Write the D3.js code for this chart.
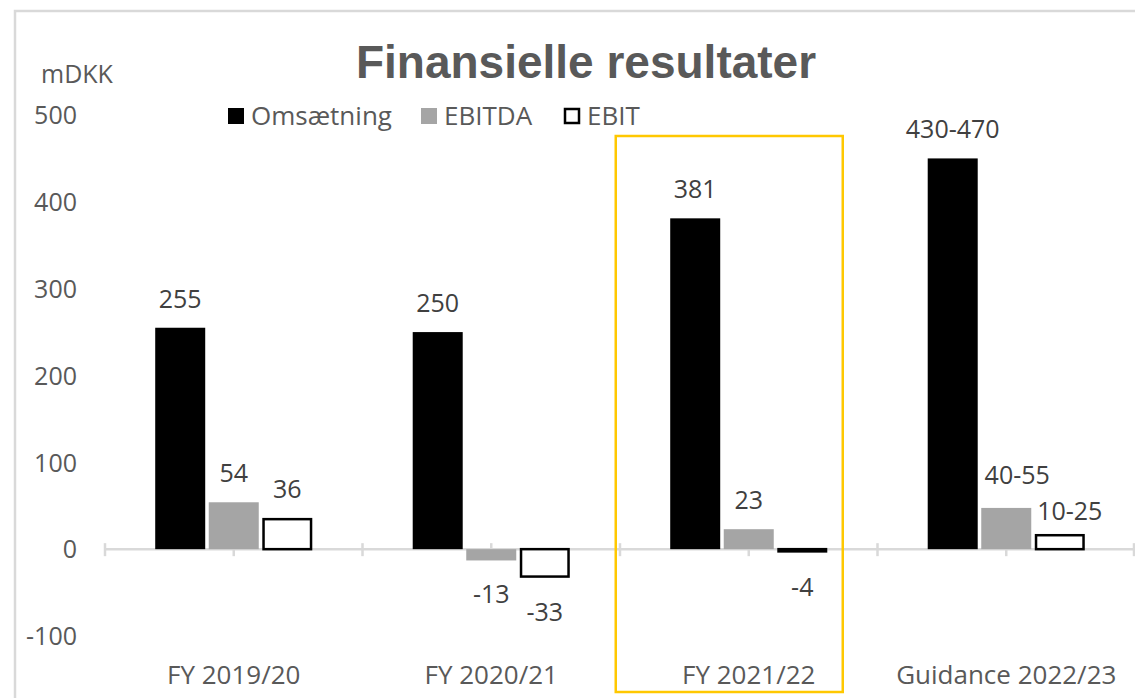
<!DOCTYPE html>
<html>
<head>
<meta charset="utf-8">
<script src="https://cdn.jsdelivr.net/npm/d3@7"></script>
<style>
html,body{margin:0;padding:0;background:#fff;}
svg{display:block;}
</style>
</head>
<body>
<svg id="chart" width="1135" height="698"></svg>
<script>
// ---- data ----
const categories = ["FY 2019/20", "FY 2020/21", "FY 2021/22", "Guidance 2022/23"];
const seriesNames = ["Omsætning", "EBITDA", "EBIT"];
const omsaetning = [255, 250, 381, 450];
const ebitda = [54, -13, 23, 47.5];
const ebit = [36, -33, -4, 17.5];
const omsaetningLabels = ["255", "250", "381", "430-470"];
const ebitdaLabels = ["54", "-13", "23", "40-55"];
const ebitLabels = ["36", "-33", "-4", "10-25"];
const yTicks = [-100, 0, 100, 200, 300, 400, 500];
const highlightCategory = "FY 2021/22";

const seriesValues = [omsaetning, ebitda, ebit];
const seriesLabels = [omsaetningLabels, ebitdaLabels, ebitLabels];
const fills = ["#000000", "#a5a5a5", "#ffffff"];
const strokes = ["none", "none", "#000000"];

const svg = d3.select("#chart");
const W = 1135, H = 698;

// chart area border (light gray, top and left visible)
svg.append("rect").attr("x", 15).attr("y", 11).attr("width", W + 20).attr("height", H + 20)
  .attr("fill", "#fff").attr("stroke", "#d9d9d9").attr("stroke-width", 2.5);

const x0 = d3.scaleBand().domain(categories).range([105, 1135]).paddingInner(0.39).paddingOuter(0.195);
const x1 = d3.scaleBand().domain(seriesNames).range([0, x0.bandwidth()]).paddingInner(0.066).paddingOuter(0);
const y = d3.scaleLinear().domain([-100, 500]).range([636, 115]);

// title
svg.append("text").attr("x", 586).attr("y", 78).attr("text-anchor", "middle")
  .attr("font-family", "Liberation Sans, Arial, sans-serif").attr("font-weight", "bold")
  .attr("font-size", 46).attr("fill", "#595959").text("Finansielle resultater");

// unit label
svg.append("text").attr("x", 41).attr("y", 83)
  .attr("font-family", "Open Sans, sans-serif").attr("font-size", 25).attr("fill", "#595959").text("mDKK");

// y axis (labels only)
const yAxis = d3.axisLeft(y).tickValues(yTicks).tickSize(0).tickPadding(0).tickFormat(d => String(d));
const yg = svg.append("g").attr("transform", "translate(77,0)").call(yAxis);
yg.select(".domain").remove();
yg.selectAll("text").attr("font-family", "Open Sans, sans-serif").attr("font-size", 25)
  .attr("fill", "#595959").attr("dy", "0.35em");

// legend
const legendX = [228, 421, 564];
const lg = svg.append("g");
seriesNames.forEach((s, i) => {
  lg.append("rect").attr("x", legendX[i] + (i === 2 ? 1 : 0)).attr("y", 108 + (i === 2 ? 1 : 0))
    .attr("width", i === 2 ? 14 : 16).attr("height", i === 2 ? 14 : 16)
    .attr("fill", fills[i]).attr("stroke", i === 2 ? "#000" : "none").attr("stroke-width", 2.5);
  lg.append("text").attr("x", legendX[i] + 23).attr("y", 125)
    .attr("font-family", "Open Sans, sans-serif").attr("font-size", 26).attr("fill", "#595959").text(s);
});

// x axis line + ticks
const axisY = y(0);
const xg = svg.append("g");
xg.append("line").attr("x1", 105).attr("x2", 1135).attr("y1", axisY).attr("y2", axisY)
  .attr("stroke", "#d9d9d9").attr("stroke-width", 2.5);
const step = x0.step();
const tickXs = [];
categories.forEach(c => { tickXs.push(x0(c) - (step - x0.bandwidth()) / 2); tickXs.push(x0(c) + x0.bandwidth() / 2); });
tickXs.push(1134);
xg.selectAll("line.tick").data(tickXs).enter().append("line").attr("class", "tick")
  .attr("x1", d => d).attr("x2", d => d).attr("y1", axisY - 6).attr("y2", axisY + 7)
  .attr("stroke", "#d9d9d9").attr("stroke-width", 2.5);

// category labels
const xAxis = d3.axisBottom(x0).tickSize(0).tickPadding(0);
const xag = svg.append("g").attr("transform", "translate(0,684)").call(xAxis);
xag.select(".domain").remove();
xag.selectAll("text").attr("font-family", "Open Sans, sans-serif").attr("font-size", 26)
  .attr("fill", "#595959").attr("dy", 0);

// bars
const groups = svg.append("g").selectAll("g").data(categories).enter().append("g")
  .attr("transform", d => `translate(${x0(d)},0)`);
seriesNames.forEach((s, si) => {
  groups.append("rect")
    .attr("x", (d, ci) => x1(s) + (si === 2 ? 1.25 : 0))
    .attr("width", x1.bandwidth() - (si === 2 ? 2.5 : 0))
    .attr("y", (d, ci) => { const v = seriesValues[si][ci]; return Math.min(y(v), y(0)) + (si === 2 && v > 0 ? 1.25 : 0); })
    .attr("height", (d, ci) => { const v = seriesValues[si][ci]; return Math.abs(y(v) - y(0)) - (si === 2 ? 1.25 : 0); })
    .attr("fill", fills[si]).attr("stroke", strokes[si]).attr("stroke-width", 2.5);
});

// data labels
const labelAdj = { "Guidance 2022/23": [[0, 0], [11, -4], [10, 6]] };
seriesNames.forEach((s, si) => {
  groups.append("text")
    .attr("x", (d, ci) => x1(s) + x1.bandwidth() / 2 + (labelAdj[d] ? labelAdj[d][si][0] : 0))
    .attr("y", (d, ci) => {
      const v = seriesValues[si][ci];
      const base = v >= 0 ? y(v) - 20 : y(v) + 43;
      return base + (labelAdj[d] ? labelAdj[d][si][1] : 0);
    })
    .attr("text-anchor", "middle")
    .attr("font-family", "Open Sans, sans-serif").attr("font-size", 25).attr("fill", "#404040")
    .text((d, ci) => seriesLabels[si][ci]);
});

// highlight box around FY 2021/22
const hx = x0(highlightCategory) + x0.bandwidth() / 2;
svg.append("rect").attr("x", hx - 133).attr("y", 136).attr("width", 227).attr("height", 556)
  .attr("fill", "none").attr("stroke", "#ffc800").attr("stroke-width", 2.5);
</script>
</body>
</html>
